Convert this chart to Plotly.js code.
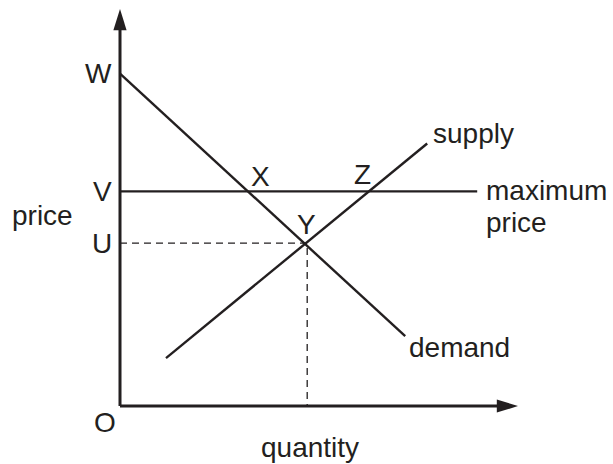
<!DOCTYPE html>
<html>
<head>
<meta charset="utf-8">
<script src="https://cdn.plot.ly/plotly-3.0.1.min.js"></script>
<style>html,body{margin:0;padding:0;background:#fff;}#chart{width:613px;height:464px;}</style>
</head>
<body>
<div id="chart"></div>
<script>
// ---- data (quantity / price units) ----
const demandQ = [0, 7.13];
const demandP = [8.33, 1.75];
const supplyQ = [1.15, 7.68];
const supplyP = [1.2, 6.58];
const maxPriceQ = [0, 8.93];
const maxPriceP = [5.38, 5.38];
const equilQ = [0, 4.68, 4.68];
const equilP = [4.08, 4.08, 0];
const pointX = [3.22, 5.38];
const pointZ = [6.25, 5.38];
const pointY = [4.68, 4.08];
const priceTickVals = [8.33, 5.38, 4.08];
const priceTickText = ['W', 'V', 'U'];
const axisMax = 9.95;

const ink = '#231f20';
const fontFam = '"Liberation Sans", Arial, Helvetica, sans-serif';
const fs = 28;

const traces = [
  {x: equilQ, y: equilP, mode: 'lines', line: {color: ink, width: 1.3, dash: '7px,5px'}, hoverinfo: 'skip'},
  {x: maxPriceQ, y: maxPriceP, mode: 'lines', line: {color: ink, width: 2.4}, hoverinfo: 'skip'},
  {x: demandQ, y: demandP, mode: 'lines', line: {color: ink, width: 2.4}, hoverinfo: 'skip'},
  {x: supplyQ, y: supplyP, mode: 'lines', line: {color: ink, width: 2.4}, hoverinfo: 'skip'}
];

function lab(text, x, y, xanchor, yanchor, xshift, yshift) {
  return {text: text, x: x, y: y, xref: 'x', yref: 'y', showarrow: false,
    xanchor: xanchor, yanchor: yanchor, xshift: xshift, yshift: yshift,
    font: {family: fontFam, size: fs, color: ink}};
}

const annotations = [];
priceTickVals.forEach((v, i) => annotations.push(lab(priceTickText[i], 0, v, 'right', 'middle', -6, 0)));
annotations.push(lab('O', 0, 0, 'right', 'middle', -2, -16));
annotations.push(lab('price', 0, 4.78, 'right', 'middle', -45, 0));
annotations.push(lab('quantity', 4.75, 0, 'center', 'middle', 0, -41));
annotations.push(lab('X', pointX[0], pointX[1], 'center', 'middle', 12, 15));
annotations.push(lab('Z', pointZ[0], pointZ[1], 'center', 'middle', -8, 17));
annotations.push(lab('Y', pointY[0], pointY[1], 'center', 'middle', -1, 19));
annotations.push(lab('supply', supplyQ[1], supplyP[1], 'left', 'middle', 4, 10));
annotations.push(lab('demand', demandQ[1], demandP[1], 'left', 'middle', 2, -11));
annotations.push(lab('maximum', maxPriceQ[1], maxPriceP[1], 'left', 'middle', 7, 1));
annotations.push(lab('price', maxPriceQ[1], maxPriceP[1], 'left', 'middle', 7, -31));

// arrowheads and axis lines
const hl = 0.53, hw = 0.165;
const shapes = [
  {type: 'line', xref: 'x', yref: 'y', x0: 0, y0: 0, x1: axisMax - 0.3, y1: 0, line: {color: ink, width: 3}},
  {type: 'line', xref: 'x', yref: 'y', x0: 0, y0: 0, x1: 0, y1: axisMax - 0.3, line: {color: ink, width: 3}},
  {type: 'path', xref: 'x', yref: 'y', path: `M ${axisMax} 0 L ${axisMax - hl} ${hw} L ${axisMax - hl} ${-hw} Z`, fillcolor: ink, line: {width: 0}},
  {type: 'path', xref: 'x', yref: 'y', path: `M 0 ${axisMax} L ${-hw} ${axisMax - hl} L ${hw} ${axisMax - hl} Z`, fillcolor: ink, line: {width: 0}}
];

// 40 px per unit; origin at pixel (120, 406)
const layout = {
  width: 613, height: 464,
  margin: {l: 110, r: 89, t: 3, b: 48, pad: 0},
  paper_bgcolor: '#ffffff', plot_bgcolor: '#ffffff',
  showlegend: false,
  xaxis: {range: [-0.25, 10.1], showgrid: false, zeroline: false, showline: false, showticklabels: false, ticks: ''},
  yaxis: {range: [-0.25, 10.1], showgrid: false, zeroline: false, showline: false, showticklabels: false, ticks: ''},
  annotations: annotations,
  shapes: shapes
};

Plotly.newPlot('chart', traces, layout, {staticPlot: true, displayModeBar: false});
</script>
</body>
</html>
